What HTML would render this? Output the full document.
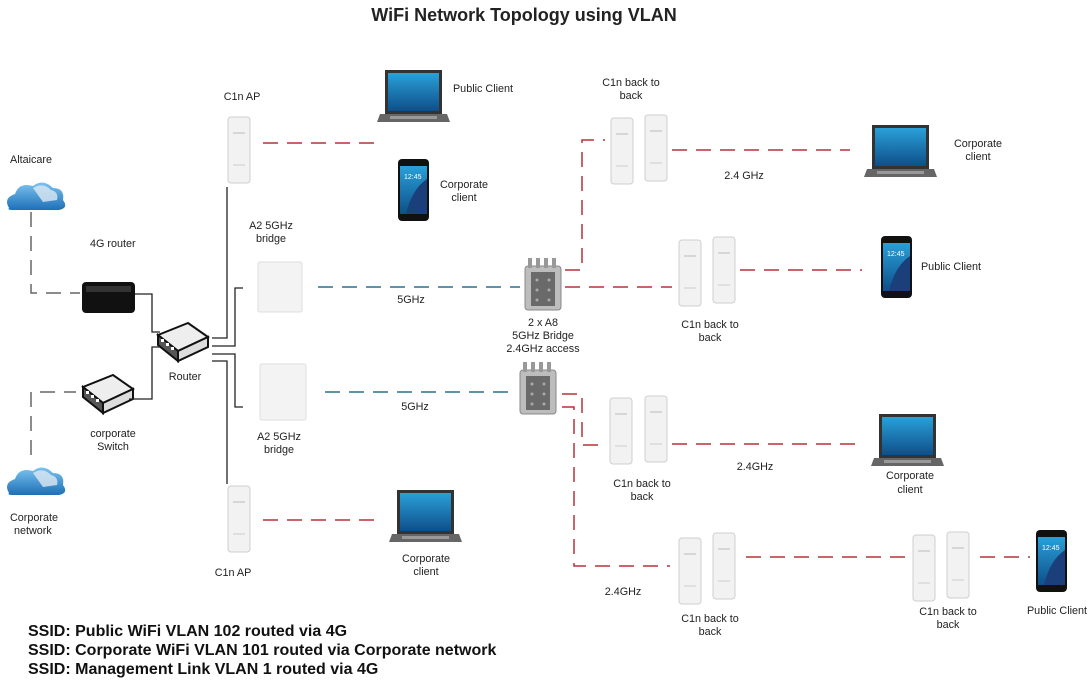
<!DOCTYPE html>
<html><head><meta charset="utf-8"><style>
html,body{margin:0;padding:0;background:#fff;}
svg{display:block;}
text{font-family:"Liberation Sans",sans-serif;font-size:10.8px;fill:#222;}
.b{font-weight:bold;font-size:16px;fill:#111;}
</style></head><body>
<svg width="1088" height="680" viewBox="0 0 1088 680" xmlns="http://www.w3.org/2000/svg">
<defs>
  <linearGradient id="sc" x1="0" y1="0" x2="0" y2="1"><stop offset="0" stop-color="#2aa0d8"/><stop offset="1" stop-color="#0e4f8a"/></linearGradient>
  <linearGradient id="cl" x1="0" y1="0" x2="0" y2="1"><stop offset="0" stop-color="#7cc4ef"/><stop offset="1" stop-color="#1d6fb8"/></linearGradient>
  <g id="c1n"><rect x="0" y="0" width="22" height="66" rx="3" fill="#f2f2f2" stroke="#cfcfcf"/><line x1="5" y1="16" x2="17" y2="16" stroke="#bbb"/><line x1="5" y1="48" x2="17" y2="48" stroke="#ccc"/></g>
  <g id="laptop"><path d="M5 0 H62 V44 H5 Z" fill="#333"/><rect x="8" y="3" width="51" height="38" fill="url(#sc)"/><path d="M0 44 H67 L70 52 H-3 Z" fill="#666"/><rect x="10" y="46" width="47" height="3" fill="#999"/></g>
  <g id="phone"><rect x="0" y="0" width="31" height="62" rx="4" fill="#111"/><rect x="2" y="7" width="27" height="48" fill="url(#sc)"/><path d="M8 55 Q14 30 29 20 L29 55 Z" fill="#1a3f7a"/><text x="6" y="20" style="font-size:7px;fill:#fff">12:45</text></g>
  <g id="a8"><rect x="3" y="8" width="36" height="44" rx="3" fill="#bdbdbd" stroke="#888"/><rect x="9" y="14" width="24" height="34" fill="#6a6a6a"/><rect x="6" y="0" width="4" height="10" fill="#999"/><rect x="14" y="0" width="4" height="10" fill="#999"/><rect x="22" y="0" width="4" height="10" fill="#999"/><rect x="30" y="0" width="4" height="10" fill="#999"/><g fill="#aaa"><circle cx="15" cy="22" r="1.5"/><circle cx="27" cy="22" r="1.5"/><circle cx="15" cy="32" r="1.5"/><circle cx="27" cy="32" r="1.5"/><circle cx="15" cy="42" r="1.5"/><circle cx="27" cy="42" r="1.5"/></g></g>
  <g id="cloud"><path d="M6 28 Q0 18 12 14 Q16 2 30 6 Q40 -2 50 8 Q62 8 60 20 Q66 28 56 30 L10 30 Q4 30 6 28 Z" fill="url(#cl)"/><path d="M30 8 Q40 2 48 10 Q56 12 54 20 L40 22 Z" fill="#dfe9f2" opacity=".8"/></g>
  <g id="sw"><path d="M0 12 L30 0 L50 14 L20 28 Z" fill="#eee" stroke="#111" stroke-width="2"/><path d="M0 12 L20 28 L20 38 L0 22 Z" fill="#555" stroke="#111" stroke-width="2"/><path d="M20 28 L50 14 L50 24 L20 38 Z" fill="#ddd" stroke="#111" stroke-width="2"/><g fill="#fff"><rect x="3" y="16" width="3" height="3"/><rect x="8" y="20" width="3" height="3"/><rect x="13" y="24" width="3" height="3"/></g></g>
</defs>

<text x="524" y="21" text-anchor="middle" style="font-size:18px;font-weight:bold;fill:#222">WiFi Network Topology using VLAN</text>

<use href="#cloud" x="3" y="180"/>
<use href="#cloud" x="3" y="465"/>
<text x="10" y="163">Altaicare</text>
<text x="10" y="521">Corporate</text><text x="14" y="534">network</text>
<g stroke="#666" stroke-width="1.5" stroke-dasharray="15,9" fill="none">
  <path d="M31 212 V293 H80"/>
  <path d="M31 455 V392 H76"/>
</g>
<rect x="82" y="282" width="53" height="31" rx="4" fill="#111"/><rect x="86" y="286" width="45" height="6" fill="#333"/>
<text x="90" y="247">4G router</text>
<use href="#sw" x="83" y="375"/>
<text x="113" y="437" text-anchor="middle">corporate</text><text x="113" y="450" text-anchor="middle">Switch</text>
<use href="#sw" x="158" y="323"/>
<text x="185" y="380" text-anchor="middle">Router</text>
<g stroke="#222" stroke-width="1.3" fill="none">
  <path d="M135 294 H152 V332 H160"/>
  <path d="M129 399 H152 V347 H160"/>
  <path d="M212 338 H227 V187"/>
  <path d="M212 346 H235 V288 H243"/>
  <path d="M212 354 H235 V407 H243"/>
  <path d="M212 361 H227 V484"/>
</g>

<use href="#c1n" x="228" y="117"/>
<text x="242" y="100" text-anchor="middle">C1n AP</text>
<use href="#c1n" x="228" y="486"/>
<text x="233" y="576" text-anchor="middle">C1n AP</text>
<rect x="258" y="262" width="44" height="50" rx="2" fill="#f3f3f3" stroke="#ddd"/>
<rect x="260" y="364" width="46" height="56" rx="2" fill="#f3f3f3" stroke="#ddd"/>
<text x="271" y="229" text-anchor="middle">A2 5GHz</text><text x="271" y="242" text-anchor="middle">bridge</text>
<text x="279" y="440" text-anchor="middle">A2 5GHz</text><text x="279" y="453" text-anchor="middle">bridge</text>
<use href="#laptop" x="380" y="70"/>
<text x="483" y="92" text-anchor="middle">Public Client</text>
<use href="#phone" x="398" y="159"/>
<text x="464" y="188" text-anchor="middle">Corporate</text><text x="464" y="201" text-anchor="middle">client</text>
<use href="#laptop" x="392" y="490"/>
<text x="426" y="562" text-anchor="middle">Corporate</text><text x="426" y="575" text-anchor="middle">client</text>
<use href="#a8" x="522" y="258"/>
<use href="#a8" x="517" y="362"/>
<text x="543" y="326" text-anchor="middle">2 x A8</text><text x="543" y="339" text-anchor="middle">5GHz Bridge</text><text x="543" y="352" text-anchor="middle">2.4GHz access</text>

<g stroke-width="1.5" fill="none" stroke-dasharray="15,9">
  <path d="M318 287 H520" stroke="#2a6f8f"/>
  <path d="M325 392 H516" stroke="#2a6f8f"/>
  <g stroke="#b8303a">
    <path d="M263 143 H378"/>
    <path d="M263 520 H378"/>
    <path d="M565 270 H582 V140 H605"/>
    <path d="M565 287 H672"/>
    <path d="M562 394 H582 V445 H605"/>
    <path d="M562 407 H574 V566 H670"/>
    <path d="M672 150 H850"/>
    <path d="M740 270 H862"/>
    <path d="M672 444 H862"/>
    <path d="M746 557 H905"/>
    <path d="M980 557 H1030"/>
  </g>
</g>
<text x="411" y="303" text-anchor="middle">5GHz</text>
<text x="415" y="410" text-anchor="middle">5GHz</text>

<use href="#c1n" x="611" y="118"/><use href="#c1n" x="645" y="115"/>
<text x="631" y="86" text-anchor="middle">C1n back to</text><text x="631" y="99" text-anchor="middle">back</text>
<text x="744" y="179" text-anchor="middle">2.4 GHz</text>
<use href="#laptop" x="867" y="125"/>
<text x="978" y="147" text-anchor="middle">Corporate</text><text x="978" y="160" text-anchor="middle">client</text>

<use href="#c1n" x="679" y="240"/><use href="#c1n" x="713" y="237"/>
<text x="710" y="328" text-anchor="middle">C1n back to</text><text x="710" y="341" text-anchor="middle">back</text>
<use href="#phone" x="881" y="236"/>
<text x="951" y="270" text-anchor="middle">Public Client</text>

<use href="#c1n" x="610" y="398"/><use href="#c1n" x="645" y="396"/>
<text x="642" y="487" text-anchor="middle">C1n back to</text><text x="642" y="500" text-anchor="middle">back</text>
<text x="755" y="470" text-anchor="middle">2.4GHz</text>
<use href="#laptop" x="874" y="414"/>
<text x="910" y="479" text-anchor="middle">Corporate</text><text x="910" y="493" text-anchor="middle">client</text>

<use href="#c1n" x="679" y="538"/><use href="#c1n" x="713" y="533"/>
<text x="710" y="622" text-anchor="middle">C1n back to</text><text x="710" y="635" text-anchor="middle">back</text>
<text x="623" y="595" text-anchor="middle">2.4GHz</text>
<use href="#c1n" x="913" y="535"/><use href="#c1n" x="947" y="532"/>
<text x="948" y="615" text-anchor="middle">C1n back to</text><text x="948" y="628" text-anchor="middle">back</text>
<use href="#phone" x="1036" y="530"/>
<text x="1057" y="614" text-anchor="middle">Public Client</text>

<text class="b" x="28" y="636">SSID: Public WiFi VLAN 102 routed via 4G</text>
<text class="b" x="28" y="655">SSID: Corporate WiFi VLAN 101 routed via Corporate network</text>
<text class="b" x="28" y="674">SSID: Management Link VLAN 1 routed via 4G</text>
</svg>
</body></html>
